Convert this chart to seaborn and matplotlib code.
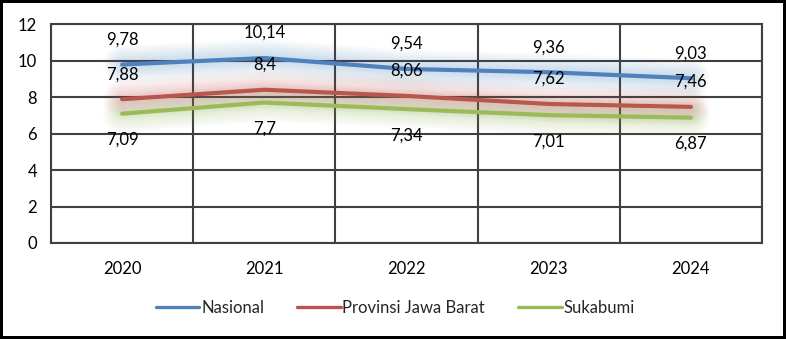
import matplotlib
matplotlib.use("Agg")
import matplotlib.pyplot as plt
import matplotlib.patheffects as pe
import numpy as np
import pandas as pd
import seaborn as sns

years = [2020, 2021, 2022, 2023, 2024]
nasional = [9.78, 10.14, 9.54, 9.36, 9.03]
jawa_barat = [7.88, 8.4, 8.06, 7.62, 7.46]
sukabumi = [7.09, 7.7, 7.34, 7.01, 6.87]
series_names = ["Nasional", "Provinsi Jawa Barat", "Sukabumi"]
colors = ["#4F81BD", "#C0504D", "#9BBB59"]

df = pd.DataFrame({
    "Tahun": years * 3,
    "Nilai": nasional + jawa_barat + sukabumi,
    "Wilayah": [n for n in series_names for _ in years],
})

sns.set_theme(style="white")
plt.rcParams["font.family"] = ["Lato", "DejaVu Sans"]

fig = plt.figure(figsize=(7.86, 3.39), dpi=100)
ax = fig.add_axes([0.0649, 0.2832, 0.9046, 0.6458])

sns.lineplot(data=df, x="Tahun", y="Nilai", hue="Wilayah", palette=colors,
             linewidth=3, ax=ax, legend=True, zorder=3)

# soft halo around each line, built from many faint strokes
halo_widths = np.arange(28, 4, -1.5)
for line, c in zip(ax.get_lines()[:3], colors):
    line.set_solid_capstyle("round")
    effects = [pe.Stroke(linewidth=w, foreground=c, alpha=0.014)
               for w in halo_widths]
    effects.append(pe.Normal())
    line.set_path_effects(effects)

# value labels
for vals, dy in [(nasional, 18), (jawa_barat, 18), (sukabumi, -19)]:
    for x, v in zip(years, vals):
        txt = f"{v:g}".replace(".", ",")
        ax.annotate(txt, (x, v), xytext=(0, dy), textcoords="offset points",
                    ha="center", va="center", fontsize=12, color="#000000",
                    zorder=5)

ax.set_xlim(2019.5, 2024.5)
ax.set_ylim(0, 12)
ax.set_yticks(range(0, 13, 2))
ax.set_xticks(years)
ax.set_xticks([y + 0.5 for y in [2019] + years], minor=True)
ax.set_xlabel("")
ax.set_ylabel("")

grid_c = "#404040"
ax.grid(axis="y", which="major", color=grid_c, linewidth=1.5, zorder=0)
ax.grid(axis="x", which="minor", color=grid_c, linewidth=1.5, zorder=0)
ax.grid(axis="x", which="major", visible=False)
for s in ax.spines.values():
    s.set_color(grid_c)
    s.set_linewidth(1.5)

ax.tick_params(axis="both", which="both", length=0, labelsize=12, colors="#000000")
ax.tick_params(axis="y", pad=10)
ax.tick_params(axis="x", pad=13)

handles, labels = ax.get_legend_handles_labels()
ax.get_legend().remove()
for h in handles:
    h.set_linewidth(2.4)
    h.set_path_effects([])
fig.legend(handles, labels, loc="center", bbox_to_anchor=(0.503, 0.092),
           ncol=3, frameon=False, fontsize=12, handlelength=2.6,
           handletextpad=0.1, columnspacing=2.0)

fig.patch.set_facecolor("white")
fig.patch.set_edgecolor("black")
fig.patch.set_linewidth(4)

fig.savefig("out.png", dpi=100, edgecolor=fig.get_edgecolor())
